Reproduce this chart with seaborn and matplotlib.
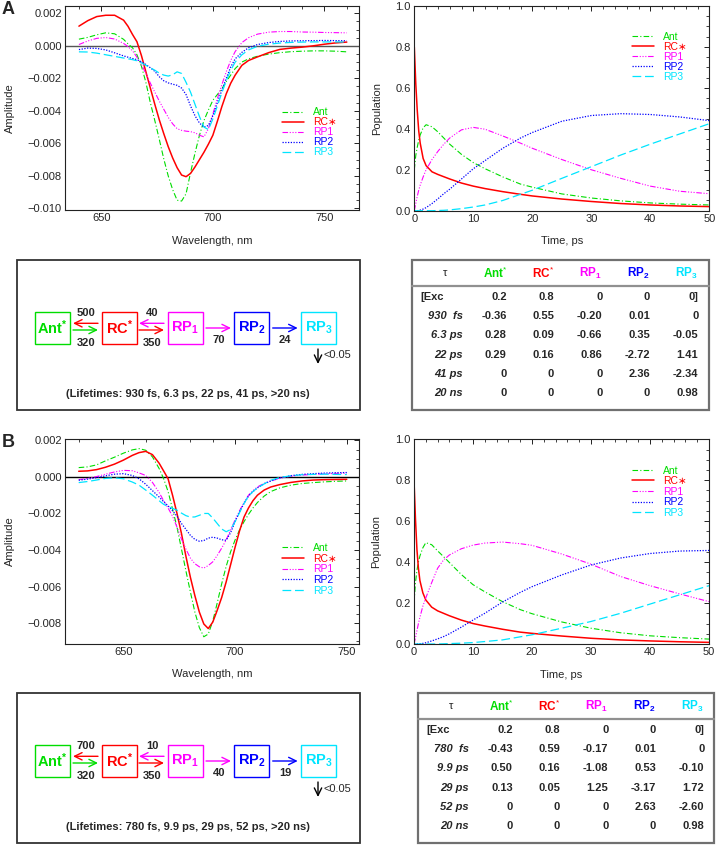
import numpy as np
import matplotlib
matplotlib.use('Agg')
import matplotlib.pyplot as plt
import seaborn as sns
from matplotlib.patches import Rectangle
from matplotlib.ticker import MultipleLocator, FuncFormatter

# ---- decay-associated spectra (amplitude in units of 1e-3) ----
wl_a = [640, 644, 648, 652, 656, 660, 662, 664, 666, 668, 670, 672, 674, 676, 678, 680, 682, 684,
        686, 688, 690, 692, 694, 696, 698, 700, 702, 704, 706, 708, 710, 713, 716, 720, 725, 730,
        735, 740, 745, 750, 755, 760]
ant_a = [0.41, 0.52, 0.68, 0.80, 0.74, 0.40, 0.12, -0.12, -0.55, -1.25, -2.25, -3.5, -4.6, -5.75,
         -6.95, -8.0, -8.85, -9.5, -9.55, -9.1, -7.8, -6.6, -5.5, -4.6, -3.95, -3.35, -3.0, -2.65,
         -2.2, -1.8, -1.4, -1.0, -0.8, -0.64, -0.51, -0.42, -0.36, -0.33, -0.31, -0.31, -0.33, -0.37]
rc_a = [1.21, 1.55, 1.80, 1.88, 1.88, 1.58, 1.2, 0.7, 0.25, -0.6, -1.6, -2.6, -3.6, -4.55, -5.4,
        -6.2, -6.9, -7.5, -7.95, -8.05, -7.85, -7.45, -7.0, -6.55, -6.05, -5.5, -4.65, -3.75, -2.95,
        -2.3, -1.8, -1.2, -0.9, -0.68, -0.42, -0.22, -0.14, -0.08, 0.0, 0.1, 0.18, 0.23]
rp1_a = [0.08, 0.3, 0.46, 0.51, 0.42, 0.15, -0.05, -0.3, -0.7, -1.15, -1.7, -2.3, -2.85, -3.4, -3.9,
         -4.4, -4.8, -5.1, -5.2, -5.25, -5.28, -5.35, -5.5, -5.6, -5.1, -4.2, -3.25, -2.4, -1.6, -0.9,
         -0.35, 0.2, 0.5, 0.72, 0.84, 0.88, 0.88, 0.85, 0.84, 0.82, 0.81, 0.80]
rp2_a = [-0.23, -0.14, -0.16, -0.25, -0.43, -0.62, -0.7, -0.78, -0.85, -0.98, -1.15, -1.35, -1.57,
         -1.9, -2.15, -2.28, -2.36, -2.43, -2.6, -3.0, -3.7, -4.3, -4.75, -5.0, -4.9, -4.3, -3.5,
         -2.75, -2.0, -1.3, -0.8, -0.4, -0.12, 0.08, 0.2, 0.27, 0.3, 0.31, 0.32, 0.33, 0.32, 0.31]
rp3_a = [-0.37, -0.38, -0.45, -0.55, -0.65, -0.75, -0.8, -0.85, -0.92, -1.05, -1.2, -1.35, -1.5,
         -1.68, -1.8, -1.86, -1.78, -1.6, -1.7, -2.25, -2.85, -3.6, -4.35, -5.0, -5.15, -4.5, -3.7,
         -2.9, -2.15, -1.5, -1.0, -0.55, -0.25, -0.03, 0.1, 0.17, 0.21, 0.23, 0.24, 0.24, 0.24, 0.23]

wl_b = [630, 634, 638, 642, 646, 650, 654, 657, 660, 663, 666, 668, 670, 672, 674, 676, 678, 680,
        682, 684, 686, 688, 690, 692, 694, 696, 698, 700, 702, 704, 706, 708, 710, 713, 716, 720,
        725, 730, 735, 740, 745, 750]
ant_b = [0.51, 0.55, 0.66, 0.88, 1.08, 1.3, 1.48, 1.55, 1.46, 1.1, 0.46, -0.09, -0.8, -1.75, -2.75,
         -3.95, -5.15, -6.3, -7.4, -8.25, -8.75, -8.6, -7.9, -6.9, -5.85, -4.9, -4.1, -3.45, -2.9,
         -2.45, -2.05, -1.7, -1.4, -1.05, -0.8, -0.6, -0.45, -0.36, -0.31, -0.27, -0.24, -0.22]
rc_b = [0.31, 0.33, 0.4, 0.53, 0.7, 0.92, 1.18, 1.33, 1.4, 1.22, 0.75, 0.33, -0.1, -1.0, -2.0, -3.1,
        -4.35, -5.5, -6.5, -7.4, -8.05, -8.3, -7.95, -7.3, -6.6, -5.75, -4.8, -3.85, -2.95, -2.2,
        -1.7, -1.3, -1.0, -0.72, -0.55, -0.42, -0.3, -0.22, -0.17, -0.15, -0.14, -0.13]
rp1_b = [-0.15, -0.08, 0.02, 0.15, 0.27, 0.36, 0.34, 0.22, 0.08, -0.3, -0.85, -1.3, -1.7, -2.15,
         -2.75, -3.4, -3.95, -4.45, -4.75, -4.92, -4.99, -4.85, -4.65, -4.3, -3.9, -3.45, -2.9,
         -2.35, -1.85, -1.4, -1.0, -0.75, -0.55, -0.35, -0.22, -0.08, 0.04, 0.1, 0.14, 0.17, 0.19, 0.21]
rp2_b = [-0.18, -0.12, -0.04, 0.06, 0.15, 0.18, 0.08, -0.1, -0.4, -0.75, -1.1, -1.35, -1.58, -1.85,
         -2.15, -2.55, -2.87, -3.2, -3.42, -3.52, -3.48, -3.35, -3.3, -3.35, -3.44, -3.47, -3.05,
         -2.45, -1.9, -1.45, -1.05, -0.8, -0.6, -0.38, -0.22, -0.05, 0.07, 0.14, 0.18, 0.21, 0.23, 0.24]
rp3_b = [-0.31, -0.25, -0.17, -0.08, -0.05, -0.1, -0.28, -0.45, -0.72, -1.0, -1.3, -1.5, -1.62,
         -1.72, -1.82, -1.98, -2.12, -2.2, -2.19, -2.1, -2.0, -2.0, -2.25, -2.55, -2.85, -3.0, -2.88,
         -2.45, -1.95, -1.45, -1.05, -0.8, -0.6, -0.38, -0.18, -0.03, 0.06, 0.12, 0.14, 0.15, 0.14, 0.13]

# ---- populations ----
t_ps = [0, 0.25, 0.5, 0.75, 1, 1.5, 2, 3, 4, 5, 6, 8, 10, 12, 15, 18, 20, 25, 30, 35, 40, 45, 50]
ant_pa = [0.2, 0.27, 0.31, 0.345, 0.37, 0.405, 0.42, 0.41, 0.385, 0.355, 0.325, 0.275, 0.235, 0.205,
          0.165, 0.13, 0.115, 0.082, 0.062, 0.048, 0.038, 0.032, 0.028]
rc_pa = [0.8, 0.62, 0.49, 0.39, 0.33, 0.255, 0.22, 0.19, 0.177, 0.166, 0.155, 0.135, 0.12, 0.108,
         0.093, 0.08, 0.072, 0.057, 0.045, 0.035, 0.028, 0.023, 0.02]
rp1_pa = [0, 0.035, 0.07, 0.1, 0.125, 0.165, 0.2, 0.25, 0.29, 0.325, 0.355, 0.395, 0.407, 0.398,
          0.365, 0.33, 0.305, 0.25, 0.2, 0.158, 0.12, 0.095, 0.083]
rp2_pa = [0, 0, 0, 0.001, 0.003, 0.008, 0.015, 0.035, 0.058, 0.083, 0.105, 0.155, 0.205, 0.245,
          0.305, 0.355, 0.382, 0.437, 0.465, 0.474, 0.47, 0.458, 0.44]
rp3_pa = [0, 0, 0, 0, 0, 0, 0, 0, 0.001, 0.002, 0.004, 0.01, 0.018, 0.028, 0.05, 0.08, 0.1, 0.158,
          0.215, 0.272, 0.325, 0.375, 0.425]

ant_pb = [0.2, 0.3, 0.36, 0.4, 0.43, 0.47, 0.495, 0.485, 0.455, 0.427, 0.398, 0.34, 0.29, 0.255,
          0.207, 0.168, 0.148, 0.108, 0.077, 0.055, 0.04, 0.031, 0.024]
rc_pb = [0.8, 0.61, 0.46, 0.37, 0.31, 0.25, 0.215, 0.18, 0.162, 0.15, 0.138, 0.117, 0.1, 0.088,
         0.072, 0.058, 0.052, 0.039, 0.028, 0.02, 0.015, 0.011, 0.008]
rp1_pb = [0, 0.03, 0.065, 0.1, 0.13, 0.185, 0.225, 0.3, 0.37, 0.41, 0.435, 0.465, 0.483, 0.493,
          0.498, 0.49, 0.482, 0.44, 0.39, 0.33, 0.285, 0.245, 0.207]
rp2_pb = [0, 0, 0, 0, 0.001, 0.003, 0.006, 0.015, 0.025, 0.036, 0.05, 0.082, 0.117, 0.15, 0.205,
          0.252, 0.28, 0.337, 0.386, 0.42, 0.442, 0.454, 0.457]
rp3_pb = [0, 0, 0, 0, 0, 0, 0, 0, 0, 0.001, 0.002, 0.004, 0.007, 0.012, 0.02, 0.035, 0.045, 0.077,
          0.11, 0.15, 0.195, 0.24, 0.285]

# ---- kinetic schemes and amplitude tables ----
rates_a = {'ant_rc': 320, 'rc_ant': 500, 'rc_rp1': 350, 'rp1_rc': 40, 'rp1_rp2': 70, 'rp2_rp3': 24}
rates_b = {'ant_rc': 320, 'rc_ant': 700, 'rc_rp1': 350, 'rp1_rc': 10, 'rp1_rp2': 40, 'rp2_rp3': 19}
lifetimes_a = '(Lifetimes: 930 fs, 6.3 ps, 22 ps, 41 ps, >20 ns)'
lifetimes_b = '(Lifetimes: 780 fs, 9.9 ps, 29 ps, 52 ps, >20 ns)'

rows_a = ['[Exc', '930  fs', '6.3 ps', '22 ps', '41 ps', '20 ns']
amps_a = [['0.2', '0.8', '0', '0', '0]'],
          ['-0.36', '0.55', '-0.20', '0.01', '0'],
          ['0.28', '0.09', '-0.66', '0.35', '-0.05'],
          ['0.29', '0.16', '0.86', '-2.72', '1.41'],
          ['0', '0', '0', '2.36', '-2.34'],
          ['0', '0', '0', '0', '0.98']]
rows_b = ['[Exc', '780  fs', '9.9 ps', '29 ps', '52 ps', '20 ns']
amps_b = [['0.2', '0.8', '0', '0', '0]'],
          ['-0.43', '0.59', '-0.17', '0.01', '0'],
          ['0.50', '0.16', '-1.08', '0.53', '-0.10'],
          ['0.13', '0.05', '1.25', '-3.17', '1.72'],
          ['0', '0', '0', '2.63', '-2.60'],
          ['0', '0', '0', '0', '0.98']]

species = ['Ant', 'RC', 'RP1', 'RP2', 'RP3']
legend_labels = ['Ant', 'RC\u2217', 'RP1', 'RP2', 'RP3']
colors = ['#00dd00', '#ff0000', '#ff00ff', '#0000ff', '#00e5ff']
styles = [(0, (5, 2, 1, 2)), '-', (0, (5, 1.5, 1, 1.5, 1, 1.5, 1, 1.5)), (0, (1, 1.2)), (0, (7, 3))]
widths = [0.8, 1.1, 0.8, 0.9, 0.9]

sns.set_theme(style='white')
plt.rcParams['font.family'] = ['Liberation Sans', 'DejaVu Sans']
plt.rcParams['mathtext.fontset'] = 'custom'
plt.rcParams['mathtext.rm'] = 'Liberation Sans'
plt.rcParams['mathtext.bf'] = 'Liberation Sans:bold'
plt.rcParams['mathtext.it'] = 'Liberation Sans:italic'

W, H = 717, 846
fig = plt.figure(figsize=(W / 100, H / 100), dpi=100)


def px_rect(l, t, r, b):
    return [l / W, 1 - b / H, (r - l) / W, (b - t) / H]


def style_axes(ax):
    for s in ax.spines.values():
        s.set_color('#222222')
        s.set_linewidth(0.8)
    ax.tick_params(which='both', direction='in', top=True, right=True, labelsize=8,
                   color='#222222', pad=2.5)
    ax.tick_params(which='major', length=3.6, width=0.7)
    ax.tick_params(which='minor', length=2.0, width=0.6)


def fmt3(v, pos):
    s = f'{v:.3f}'
    if s == '-0.000':
        s = '0.000'
    return s.replace('-', '\u2212')


def add_legend(ax, anchor, spacing):
    h, l = ax.get_legend_handles_labels()
    leg = ax.legend(h, l, loc='upper left', bbox_to_anchor=anchor, frameon=False, fontsize=7.5,
                    borderpad=0, borderaxespad=0, handlelength=2.1, handletextpad=0.9,
                    labelspacing=spacing)
    for txt, ln in zip(leg.get_texts(), leg.get_lines()):
        txt.set_color(ln.get_color())


def spectrum(rect, wl, curves, xlim, ylim, anchor, spacing, zcolor):
    ax = fig.add_axes(px_rect(*rect))
    ax.axhline(0, color=zcolor, lw=1.0, zorder=1)
    for vals, lab, c, ls, lw in zip(curves, legend_labels, colors, styles, widths):
        sns.lineplot(x=wl, y=np.array(vals) * 1e-3, ax=ax, color=c, linestyle=ls, lw=lw, label=lab)
    ax.set_xlim(*xlim)
    ax.set_ylim(*ylim)
    ax.xaxis.set_major_locator(MultipleLocator(50))
    ax.xaxis.set_minor_locator(MultipleLocator(10))
    ax.yaxis.set_major_locator(MultipleLocator(0.002))
    ax.yaxis.set_minor_locator(MultipleLocator(0.0005))
    ax.yaxis.set_major_formatter(FuncFormatter(fmt3))
    style_axes(ax)
    ax.set_xlabel('Wavelength, nm', fontsize=8)
    ax.set_ylabel('Amplitude', fontsize=8)
    ax.xaxis.set_label_coords(0.5, -0.125)
    ax.yaxis.set_label_coords(-0.172, 0.5)
    add_legend(ax, anchor, spacing)
    return ax


def population(rect, curves, anchor, spacing):
    ax = fig.add_axes(px_rect(*rect))
    for vals, lab, c, ls, lw in zip(curves, legend_labels, colors, styles, widths):
        sns.lineplot(x=t_ps, y=vals, ax=ax, color=c, linestyle=ls, lw=lw, label=lab)
    ax.set_xlim(0, 50)
    ax.set_ylim(0, 1.0)
    ax.xaxis.set_major_locator(MultipleLocator(10))
    ax.xaxis.set_minor_locator(MultipleLocator(2))
    ax.yaxis.set_major_locator(MultipleLocator(0.2))
    ax.yaxis.set_minor_locator(MultipleLocator(0.05))
    ax.yaxis.set_major_formatter(FuncFormatter(lambda v, p: f'{v:.1f}'))
    style_axes(ax)
    ax.set_xlabel('Time, ps', fontsize=8)
    ax.set_ylabel('Population', fontsize=8)
    ax.xaxis.set_label_coords(0.5, -0.125)
    ax.yaxis.set_label_coords(-0.11, 0.5)
    add_legend(ax, anchor, spacing)
    return ax


spectrum((65.3, 6, 359.3, 210), wl_a, [ant_a, rc_a, rp1_a, rp2_a, rp3_a], (633.9, 765.6),
         (-0.0101, 0.00245), (0.737, 0.5025), 0.0, '#555555')
population((414.3, 6, 709.3, 210.7), [ant_pa, rc_pa, rp1_pa, rp2_pa, rp3_pa], (0.738, 0.875), 0.0)
spectrum((65.3, 439.3, 359.3, 643.7), wl_b, [ant_b, rc_b, rp1_b, rp2_b, rp3_b], (624, 755.6),
         (-0.00913, 0.00206), (0.736, 0.492), 0.06, '#000000')
population((414, 439.3, 709, 644), [ant_pb, rc_pb, rp1_pb, rp2_pb, rp3_pb], (0.738, 0.872), 0.06)

# overlay in pixel coordinates for panel letters, schemes and tables
ov = fig.add_axes([0, 0, 1, 1])
ov.set_xlim(0, W)
ov.set_ylim(H, 0)
ov.axis('off')

ov.text(2, 1, 'A', fontsize=13, fontweight='bold', ha='left', va='top')
ov.text(2, 434, 'B', fontsize=13, fontweight='bold', ha='left', va='top')

box_labels = [r'$\mathbf{Ant}^{\mathbf{*}}$', r'$\mathbf{RC}^{\mathbf{*}}$', r'$\mathbf{RP}_{\mathbf{1}}$',
              r'$\mathbf{RP}_{\mathbf{2}}$', r'$\mathbf{RP}_{\mathbf{3}}$']
box_x = [35, 101.7, 167.7, 234.3, 301]


def arrow(x1, y1, x2, y2, c):
    ov.annotate('', xy=(x2, y2), xytext=(x1, y1),
                arrowprops=dict(arrowstyle='->,head_length=0.45,head_width=0.22', color=c, lw=1.0,
                                shrinkA=0, shrinkB=0))


def scheme(y0, rates, lifetimes):
    ov.add_patch(Rectangle((17, y0), 343, 150, fill=False, ec='#333333', lw=1.3))
    for x, lab, c in zip(box_x, box_labels, colors):
        ov.add_patch(Rectangle((x, y0 + 51.7), 35, 32.6, fill=False, ec=c, lw=1.0))
        ov.text(x + 17.5, y0 + 68, lab, color=c, fontsize=10.5, ha='center', va='center')
    # Ant <-> RC
    arrow(98, y0 + 63.3, 73, y0 + 63.3, colors[1])
    arrow(73, y0 + 70, 98, y0 + 70, colors[0])
    ov.text(86, y0 + 52.7, str(rates['rc_ant']), fontsize=8, fontweight='bold', ha='center', va='center')
    ov.text(86, y0 + 83.3, str(rates['ant_rc']), fontsize=8, fontweight='bold', ha='center', va='center')
    # RC <-> RP1
    arrow(164, y0 + 63.3, 139, y0 + 63.3, colors[2])
    arrow(139, y0 + 70, 164, y0 + 70, colors[1])
    ov.text(152, y0 + 52.7, str(rates['rp1_rc']), fontsize=8, fontweight='bold', ha='center', va='center')
    ov.text(152, y0 + 83.3, str(rates['rc_rp1']), fontsize=8, fontweight='bold', ha='center', va='center')
    # RP1 -> RP2 -> RP3
    arrow(206, y0 + 68, 231, y0 + 68, colors[2])
    ov.text(218.7, y0 + 80, str(rates['rp1_rp2']), fontsize=8, fontweight='bold', ha='center', va='center')
    arrow(272.7, y0 + 68, 297.7, y0 + 68, colors[3])
    ov.text(285, y0 + 80, str(rates['rp2_rp3']), fontsize=8, fontweight='bold', ha='center', va='center')
    # RP3 decay
    arrow(318, y0 + 89, 318, y0 + 104, 'black')
    ov.text(323, y0 + 95.5, '<0.05', fontsize=8, ha='left', va='center')
    ov.text(188.3, y0 + 134.3, lifetimes, fontsize=8, fontweight='bold', ha='center', va='center')


head_labels = [r'$\mathbf{Ant}^{*}$', r'$\mathbf{RC}^{*}$', r'$\mathbf{RP}_{\mathbf{1}}$',
               r'$\mathbf{RP}_{\mathbf{2}}$', r'$\mathbf{RP}_{\mathbf{3}}$']
head_x = [83.3, 131.3, 178.3, 226.3, 275]
col_right = [95, 142.3, 190.6, 238.3, 286.6]


def table(tx0, ty0, tw, rows, amps):
    ov.add_patch(Rectangle((tx0, ty0), tw, 150, fill=False, ec='#707070', lw=1.6))
    ov.plot([tx0, tx0 + tw], [ty0 + 25.7, ty0 + 25.7], color='#909090', lw=1.6)
    ov.text(tx0 + 33.3, ty0 + 13, '\u03c4', fontsize=8, ha='center', va='center')
    for hx, lab, c in zip(head_x, head_labels, colors):
        ov.text(tx0 + hx, ty0 + 13, lab, color=c, fontsize=8.5, ha='center', va='center')
    for i, (rl, vals) in enumerate(zip(rows, amps)):
        yy = ty0 + 36.7 + i * 19.3
        if i == 0:
            ov.text(tx0 + 8.3, yy, rl, fontsize=8, fontweight='bold', ha='left', va='center')
        else:
            ov.text(tx0 + 51, yy, rl, fontsize=8, fontweight='bold', fontstyle='italic',
                    ha='right', va='center')
        for xr, v in zip(col_right, vals):
            ov.text(tx0 + xr, yy, v, fontsize=8, fontweight='bold', ha='right', va='center')


scheme(260, rates_a, lifetimes_a)
scheme(693, rates_b, lifetimes_b)
table(411.7, 260, 297.6, rows_a, amps_a)
table(417.7, 693, 296.3, rows_b, amps_b)

fig.savefig('out.png', dpi=100)
